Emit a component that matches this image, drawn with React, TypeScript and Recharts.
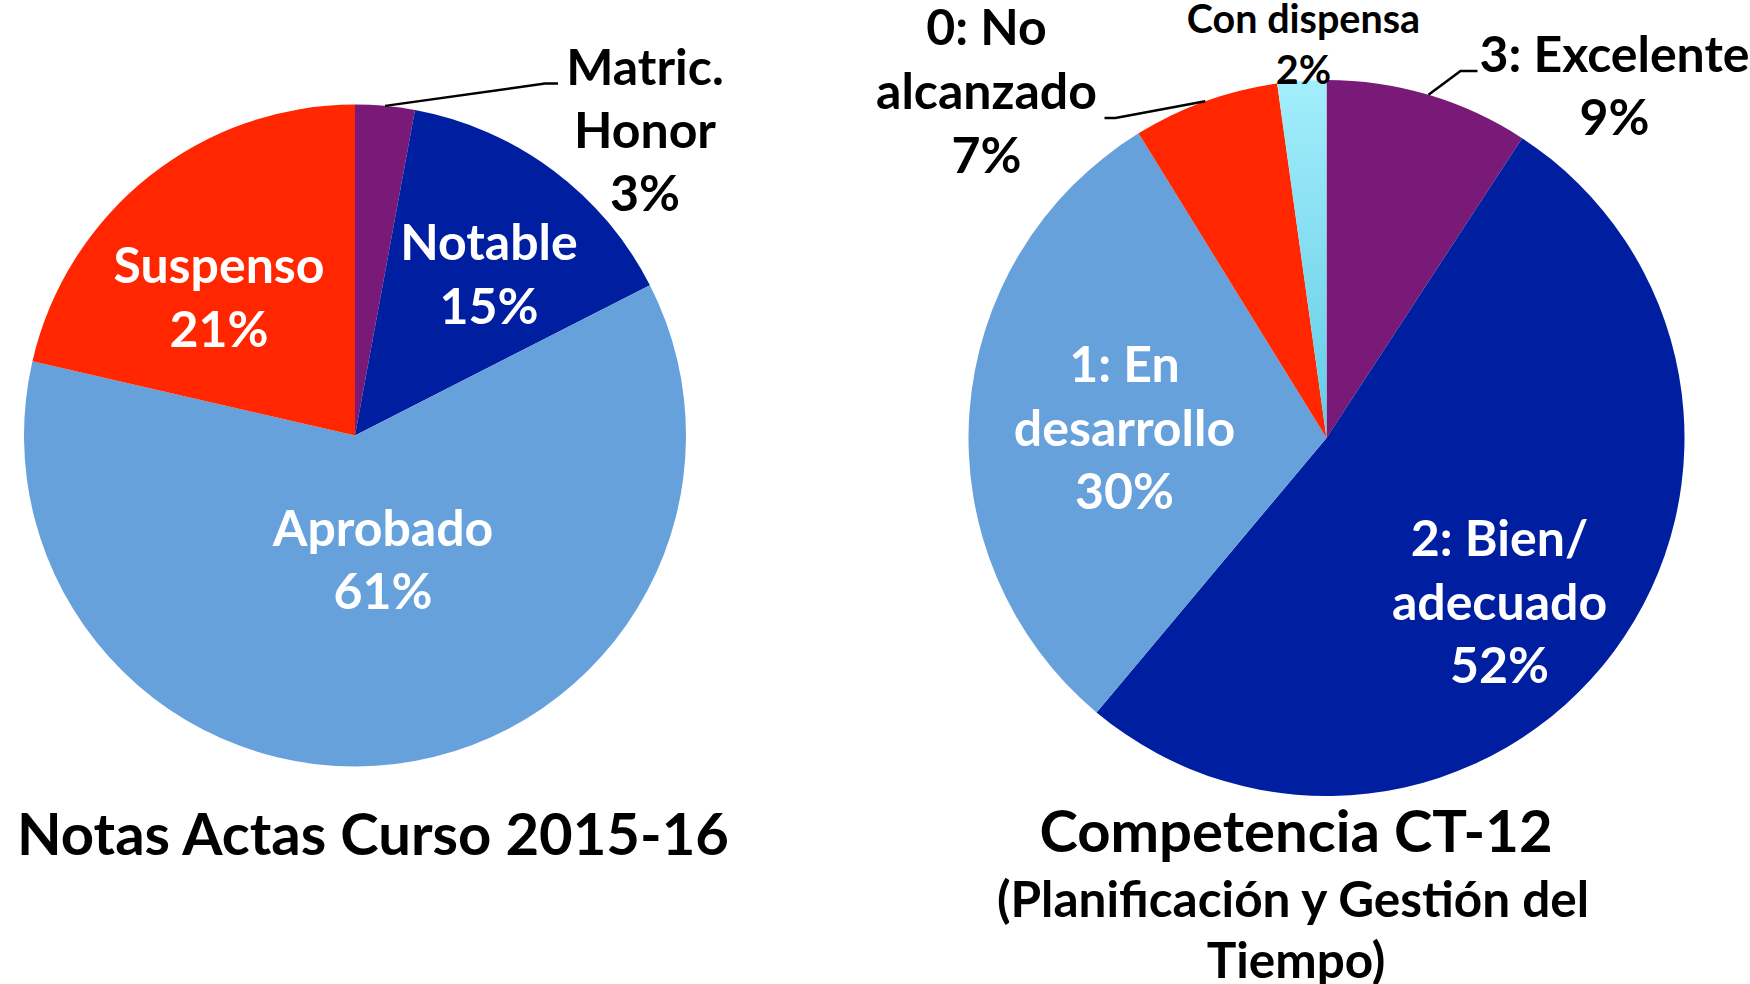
import React from "react";
import { Cell, Pie, PieChart } from "recharts";

// Notas Actas Curso 2015-16
const gradeNames = ["Matric.\nHonor", "Notable", "Aprobado", "Suspenso"];
const gradePct = [2.9, 14.6, 61.1, 21.4];
const gradeColors = ["#7a1a78", "#001ea0", "#66a1dc", "#ff2600"];

// Competencia CT-12
const compNames = [
  "3: Excelente",
  "2: Bien/\nadecuado",
  "1: En\ndesarrollo",
  "0: No\nalcanzado",
  "Con dispensa",
];
const compPct = [9.2, 51.9, 30.1, 6.6, 2.2];
const compColors = ["#7a1a78", "#001ea0", "#66a1dc", "#ff2600", "url(#cyanFill)"];

const gradeData = gradeNames.map((name, i) => ({ name, value: gradePct[i] }));
const compData = compNames.map((name, i) => ({ name, value: compPct[i] }));

const FONT = "Lato, 'Open Sans', sans-serif";
const RAD = Math.PI / 180;

type LabelSpec = {
  dx: number; // offset of first baseline anchor from pie centre
  dy: number;
  color: string;
  size: number;
  lh: number;
  leader?: [number, number][]; // elbow points, relative to the anchor
};

const gradeLabels: Record<string, LabelSpec> = {
  "Matric.\nHonor": { dx: 290, dy: -351, color: "#000", size: 50, lh: 63, leader: [[-100, -1], [-87, -1]] },
  Notable: { dx: 134, dy: -176, color: "#fff", size: 50, lh: 64 },
  Aprobado: { dx: 28, dy: 110, color: "#fff", size: 50, lh: 63 },
  Suspenso: { dx: -136, dy: -153, color: "#fff", size: 50, lh: 64 },
};

const compLabels: Record<string, LabelSpec> = {
  "3: Excelente": { dx: 288, dy: -366, color: "#000", size: 50, lh: 63, leader: [[-154, -1], [-137, -1]] },
  "2: Bien/\nadecuado": { dx: 173, dy: 118, color: "#fff", size: 50, lh: 63.5 },
  "1: En\ndesarrollo": { dx: -202, dy: -56, color: "#fff", size: 50, lh: 63.5 },
  "0: No\nalcanzado": { dx: -340, dy: -393, color: "#000", size: 50, lh: 64, leader: [[129, 73], [118, 73]] },
  "Con dispensa": { dx: -23, dy: -405, color: "#000", size: 39.5, lh: 51 },
};

function makeLabel(specs: Record<string, LabelSpec>) {
  return (props: any) => {
    const { cx, cy, midAngle, outerRadius, name, value, index } = props;
    const s = specs[name];
    if (!s) return null;
    const ax = cx + s.dx;
    const ay = cy + s.dy;
    const lines = [...String(name).split("\n"), `${Math.round(value)}%`];
    let leader = null;
    if (s.leader) {
      const ex = cx + outerRadius * Math.cos(-midAngle * RAD);
      const ey = cy + outerRadius * Math.sin(-midAngle * RAD);
      const pts = [[ex, ey], ...s.leader.map(([px, py]) => [ax + px, ay + py])]
        .map((p) => p.join(","))
        .join(" ");
      leader = <polyline points={pts} fill="none" stroke="#000" strokeWidth={2.5} />;
    }
    return (
      <g key={`lbl-${index}`}>
        {leader}
        <text
          x={ax}
          y={ay}
          textAnchor="middle"
          fill={s.color}
          fontFamily={FONT}
          fontWeight={700}
          fontSize={s.size}
        >
          {lines.map((t, i) => (
            <tspan key={i} x={ax} y={ay + i * s.lh}>
              {t}
            </tspan>
          ))}
        </text>
      </g>
    );
  };
}

export default function App() {
  return (
    <div style={{ position: "relative", width: 1750, height: 984, background: "#fff" }}>
      <style>{`body{margin:0} .recharts-pie-sectors{filter:url(#pieShadow)}`}</style>
      <svg width={0} height={0} style={{ position: "absolute" }}>
        <defs>
          <filter id="pieShadow" x="-10%" y="-10%" width="120%" height="125%">
            <feDropShadow dx="0" dy="4" stdDeviation="4" floodColor="#000" floodOpacity="0.35" />
          </filter>
          <linearGradient id="cyanFill" x1="0" y1="0" x2="0" y2="1">
            <stop offset="0%" stopColor="#a3eefc" />
            <stop offset="100%" stopColor="#62cbe4" />
          </linearGradient>
        </defs>
      </svg>
      <PieChart
        width={1750}
        height={984}
        margin={{ top: 0, right: 0, bottom: 0, left: 0 }}
        style={{ position: "absolute", left: 0, top: 0 }}
      >
        <Pie
          data={gradeData}
          dataKey="value"
          nameKey="name"
          cx={355}
          cy={435.5}
          outerRadius={331}
          startAngle={90}
          endAngle={-270}
          stroke="none"
          label={makeLabel(gradeLabels)}
          labelLine={false}
          isAnimationActive={false}
        >
          {gradeData.map((d, i) => (
            <Cell key={d.name} fill={gradeColors[i]} />
          ))}
        </Pie>
        <Pie
          data={compData}
          dataKey="value"
          nameKey="name"
          cx={1326.5}
          cy={438}
          outerRadius={358}
          startAngle={90}
          endAngle={-270}
          stroke="none"
          label={makeLabel(compLabels)}
          labelLine={false}
          isAnimationActive={false}
        >
          {compData.map((d, i) => (
            <Cell key={d.name} fill={compColors[i]} />
          ))}
        </Pie>
      </PieChart>
      <svg
        width={1750}
        height={984}
        style={{ position: "absolute", left: 0, top: 0, pointerEvents: "none" }}
        fontFamily={FONT}
        fontWeight={700}
        textAnchor="middle"
      >
        <text x={373} y={855} fontSize={58}>Notas Actas Curso 2015-16</text>
        <text x={1296} y={852} fontSize={58}>Competencia CT-12</text>
        <text x={1293} y={917} fontSize={49.5}>(Planificación y Gestión del</text>
        <text x={1296} y={978} fontSize={49.5}>Tiempo)</text>
      </svg>
    </div>
  );
}
